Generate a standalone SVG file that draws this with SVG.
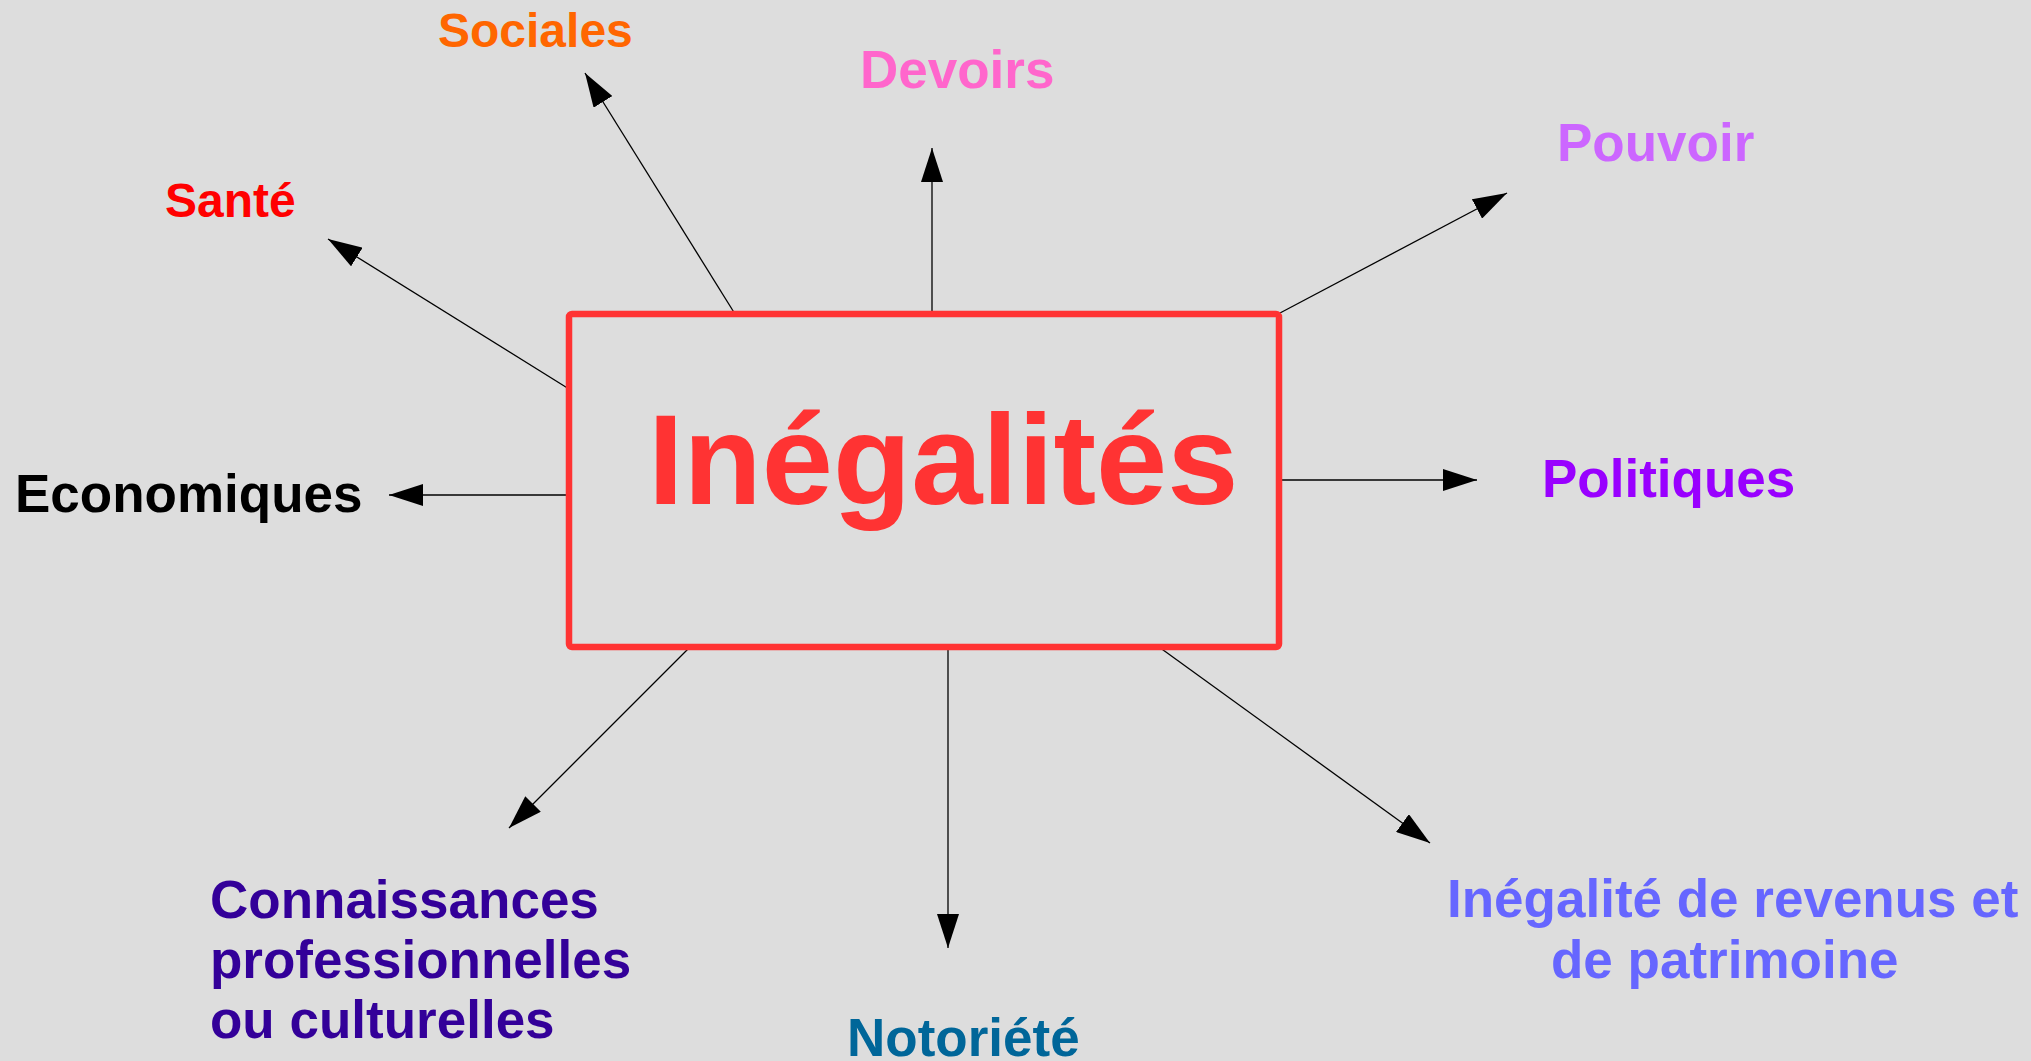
<svg xmlns="http://www.w3.org/2000/svg" width="2031" height="1061" viewBox="0 0 2031 1061">
<style>
.lbl{font-family:"Liberation Sans",Arial,sans-serif;font-weight:bold;font-size:53px}
.sm{font-size:48px}
.conn line{stroke:#000;stroke-width:1.3;marker-end:url(#arr)}
</style>
<defs>
<marker id="arr" markerUnits="userSpaceOnUse" markerWidth="34" markerHeight="22" refX="34" refY="11" orient="auto" viewBox="0 0 34 22">
<path d="M0,0 L34,11 L0,22 z" fill="#000"/>
</marker>
</defs>
<rect x="0" y="0" width="2031" height="1061" fill="#dddddd"/>
<g id="connectors" class="conn">
<line x1="735" y1="314" x2="585" y2="73"/>
<line x1="569" y1="389" x2="328" y2="239"/>
<line x1="932" y1="313" x2="932" y2="148"/>
<line x1="1280" y1="313" x2="1507" y2="193"/>
<line x1="569" y1="495" x2="389" y2="495"/>
<line x1="1280" y1="480" x2="1477" y2="480"/>
<line x1="690" y1="647" x2="509" y2="828"/>
<line x1="948" y1="647" x2="948" y2="948"/>
<line x1="1159" y1="647" x2="1430" y2="843"/>
</g>
<g id="center">
<rect x="569" y="314" width="710" height="333" rx="3" fill="none" stroke="#ff3333" stroke-width="6.5"/>
<text x="648" y="504" font-family="Liberation Sans, Arial, sans-serif" font-weight="bold" font-size="128" fill="#ff3333">Inégalités</text>
</g>
<g id="sociales"><text class="lbl sm" x="438" y="47" fill="#ff6600">Sociales</text></g>
<g id="sante"><text class="lbl sm" x="165" y="217" fill="#ff0000">Santé</text></g>
<g id="devoirs"><text class="lbl" x="860" y="88" fill="#ff66cc">Devoirs</text></g>
<g id="pouvoir"><text class="lbl" x="1557" y="161" fill="#cc66ff">Pouvoir</text></g>
<g id="politiques"><text class="lbl" x="1542" y="497" fill="#9900ff">Politiques</text></g>
<g id="economiques"><text class="lbl" x="15" y="512" fill="#000000">Economiques</text></g>
<g id="connaissances"><text class="lbl" fill="#330099"><tspan x="210" y="918">Connaissances</tspan><tspan x="210" y="978">professionnelles</tspan><tspan x="210" y="1038">ou culturelles</tspan></text></g>
<g id="notoriete"><text class="lbl" x="847" y="1056" fill="#006699">Notoriété</text></g>
<g id="revenus"><text class="lbl" fill="#6666ff"><tspan x="1447" y="917">Inégalité de revenus et</tspan><tspan x="1551" y="978">de patrimoine</tspan></text></g>
</svg>
